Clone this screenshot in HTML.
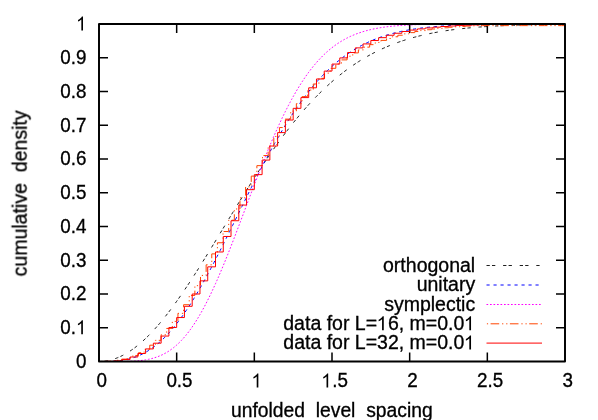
<!DOCTYPE html>
<html><head><meta charset="utf-8"><title>plot</title>
<style>
html,body{margin:0;padding:0;background:#fff;}
svg{display:block;}
.t{font-family:"Liberation Sans",sans-serif;font-size:19.5px;fill:#000;stroke:#000;stroke-width:0.32px;filter:grayscale(1) blur(0.3px);}
.t .h{fill:none;stroke:none;}
.c{fill:none;stroke-width:1;}
</style></head><body>
<svg width="598" height="420" viewBox="0 0 598 420">
<rect width="598" height="420" fill="#fff"/>
<defs><clipPath id="cp"><rect x="99.0" y="24.0" width="466.0" height="337.5"/></clipPath></defs>
<!-- border and ticks -->
<path d="M99.00,327.75 h9 M565.00,327.75 h-9 M99.00,294.00 h9 M565.00,294.00 h-9 M99.00,260.25 h9 M565.00,260.25 h-9 M99.00,226.50 h9 M565.00,226.50 h-9 M99.00,192.75 h9 M565.00,192.75 h-9 M99.00,159.00 h9 M565.00,159.00 h-9 M99.00,125.25 h9 M565.00,125.25 h-9 M99.00,91.50 h9 M565.00,91.50 h-9 M99.00,57.75 h9 M565.00,57.75 h-9 M176.67,361.50 v-9 M176.67,24.00 v9 M254.33,361.50 v-9 M254.33,24.00 v9 M332.00,361.50 v-9 M332.00,24.00 v9 M409.67,361.50 v-9 M409.67,24.00 v9 M487.33,361.50 v-9 M487.33,24.00 v9" fill="none" stroke="#000" stroke-width="1.5" style="filter:blur(0.3px)"/>
<!-- curves -->
<g clip-path="url(#cp)">
<path class="c" d="M99.00,361.50 L100.55,361.47 L102.11,361.39 L103.66,361.26 L105.21,361.08 L106.77,360.84 L108.32,360.55 L109.87,360.20 L111.43,359.81 L112.98,359.36 L114.53,358.86 L116.09,358.31 L117.64,357.70 L119.19,357.05 L120.75,356.34 L122.30,355.59 L123.85,354.78 L125.41,353.93 L126.96,353.02 L128.51,352.07 L130.07,351.06 L131.62,350.01 L133.17,348.91 L134.73,347.77 L136.28,346.57 L137.83,345.33 L139.39,344.05 L140.94,342.72 L142.49,341.35 L144.05,339.93 L145.60,338.47 L147.15,336.96 L148.71,335.42 L150.26,333.83 L151.81,332.21 L153.37,330.54 L154.92,328.84 L156.47,327.09 L158.03,325.31 L159.58,323.50 L161.13,321.65 L162.69,319.76 L164.24,317.84 L165.79,315.88 L167.35,313.89 L168.90,311.87 L170.45,309.82 L172.01,307.74 L173.56,305.63 L175.11,303.50 L176.67,301.33 L178.22,299.14 L179.77,296.92 L181.33,294.68 L182.88,292.42 L184.43,290.13 L185.99,287.82 L187.54,285.49 L189.09,283.14 L190.65,280.77 L192.20,278.38 L193.75,275.97 L195.31,273.55 L196.86,271.11 L198.41,268.66 L199.97,266.19 L201.52,263.71 L203.07,261.22 L204.63,258.72 L206.18,256.21 L207.73,253.69 L209.29,251.16 L210.84,248.62 L212.39,246.08 L213.95,243.53 L215.50,240.97 L217.05,238.42 L218.61,235.86 L220.16,233.29 L221.71,230.73 L223.27,228.16 L224.82,225.60 L226.37,223.03 L227.93,220.47 L229.48,217.91 L231.03,215.35 L232.59,212.80 L234.14,210.25 L235.69,207.71 L237.25,205.17 L238.80,202.64 L240.35,200.12 L241.91,197.61 L243.46,195.10 L245.01,192.61 L246.57,190.13 L248.12,187.65 L249.67,185.19 L251.23,182.74 L252.78,180.30 L254.33,177.88 L255.89,175.47 L257.44,173.07 L258.99,170.69 L260.55,168.33 L262.10,165.98 L263.65,163.64 L265.21,161.33 L266.76,159.03 L268.31,156.75 L269.87,154.48 L271.42,152.24 L272.97,150.01 L274.53,147.80 L276.08,145.62 L277.63,143.45 L279.19,141.30 L280.74,139.17 L282.29,137.07 L283.85,134.98 L285.40,132.92 L286.95,130.88 L288.51,128.86 L290.06,126.86 L291.61,124.88 L293.17,122.93 L294.72,121.00 L296.27,119.09 L297.83,117.20 L299.38,115.34 L300.93,113.50 L302.49,111.68 L304.04,109.89 L305.59,108.12 L307.15,106.38 L308.70,104.65 L310.25,102.96 L311.81,101.28 L313.36,99.63 L314.91,98.00 L316.47,96.40 L318.02,94.82 L319.57,93.26 L321.13,91.73 L322.68,90.22 L324.23,88.73 L325.79,87.27 L327.34,85.83 L328.89,84.41 L330.45,83.02 L332.00,81.65 L333.55,80.30 L335.11,78.98 L336.66,77.68 L338.21,76.40 L339.77,75.14 L341.32,73.91 L342.87,72.70 L344.43,71.51 L345.98,70.34 L347.53,69.19 L349.09,68.07 L350.64,66.96 L352.19,65.88 L353.75,64.82 L355.30,63.78 L356.85,62.76 L358.41,61.76 L359.96,60.78 L361.51,59.82 L363.07,58.87 L364.62,57.95 L366.17,57.05 L367.73,56.17 L369.28,55.30 L370.83,54.46 L372.39,53.63 L373.94,52.82 L375.49,52.03 L377.05,51.25 L378.60,50.49 L380.15,49.75 L381.71,49.03 L383.26,48.32 L384.81,47.63 L386.37,46.96 L387.92,46.30 L389.47,45.65 L391.03,45.02 L392.58,44.41 L394.13,43.81 L395.69,43.23 L397.24,42.66 L398.79,42.10 L400.35,41.56 L401.90,41.03 L403.45,40.52 L405.01,40.01 L406.56,39.53 L408.11,39.05 L409.67,38.58 L411.22,38.13 L412.77,37.69 L414.33,37.26 L415.88,36.85 L417.43,36.44 L418.99,36.05 L420.54,35.66 L422.09,35.29 L423.65,34.92 L425.20,34.57 L426.75,34.23 L428.31,33.89 L429.86,33.57 L431.41,33.25 L432.97,32.94 L434.52,32.65 L436.07,32.36 L437.63,32.08 L439.18,31.80 L440.73,31.54 L442.29,31.28 L443.84,31.03 L445.39,30.79 L446.95,30.56 L448.50,30.33 L450.05,30.11 L451.61,29.90 L453.16,29.69 L454.71,29.49 L456.27,29.30 L457.82,29.11 L459.37,28.92 L460.93,28.75 L462.48,28.58 L464.03,28.41 L465.59,28.25 L467.14,28.10 L468.69,27.95 L470.25,27.80 L471.80,27.66 L473.35,27.53 L474.91,27.39 L476.46,27.27 L478.01,27.14 L479.57,27.03 L481.12,26.91 L482.67,26.80 L484.23,26.69 L485.78,26.59 L487.33,26.49 L488.89,26.40 L490.44,26.30 L491.99,26.21 L493.55,26.13 L495.10,26.04 L496.65,25.96 L498.21,25.89 L499.76,25.81 L501.31,25.74 L502.87,25.67 L504.42,25.60 L505.97,25.54 L507.53,25.48 L509.08,25.42 L510.63,25.36 L512.19,25.30 L513.74,25.25 L515.29,25.20 L516.85,25.15 L518.40,25.10 L519.95,25.05 L521.51,25.01 L523.06,24.97 L524.61,24.93 L526.17,24.89 L527.72,24.85 L529.27,24.81 L530.83,24.78 L532.38,24.75 L533.93,24.71 L535.49,24.68 L537.04,24.65 L538.59,24.63 L540.15,24.60 L541.70,24.57 L543.25,24.55 L544.81,24.52 L546.36,24.50 L547.91,24.48 L549.47,24.46 L551.02,24.44 L552.57,24.42 L554.13,24.40 L555.68,24.38 L557.23,24.36 L558.79,24.35 L560.34,24.33 L561.89,24.32 L563.45,24.30 L565.00,24.29" stroke="#000" stroke-opacity="0.88" stroke-width="1.65" stroke-dasharray="3.3 2.2 3.3 7.8"/>
<path class="c" d="M99.00,361.50 L100.55,361.50 L102.11,361.50 L103.66,361.49 L105.21,361.48 L106.77,361.45 L108.32,361.42 L109.87,361.38 L111.43,361.31 L112.98,361.24 L114.53,361.14 L116.09,361.02 L117.64,360.88 L119.19,360.71 L120.75,360.51 L122.30,360.29 L123.85,360.03 L125.41,359.75 L126.96,359.42 L128.51,359.07 L130.07,358.67 L131.62,358.23 L133.17,357.76 L134.73,357.24 L136.28,356.67 L137.83,356.07 L139.39,355.41 L140.94,354.71 L142.49,353.96 L144.05,353.15 L145.60,352.30 L147.15,351.40 L148.71,350.44 L150.26,349.43 L151.81,348.37 L153.37,347.25 L154.92,346.07 L156.47,344.84 L158.03,343.55 L159.58,342.21 L161.13,340.81 L162.69,339.36 L164.24,337.84 L165.79,336.27 L167.35,334.64 L168.90,332.96 L170.45,331.22 L172.01,329.42 L173.56,327.57 L175.11,325.66 L176.67,323.70 L178.22,321.68 L179.77,319.61 L181.33,317.49 L182.88,315.31 L184.43,313.09 L185.99,310.81 L187.54,308.48 L189.09,306.11 L190.65,303.69 L192.20,301.22 L193.75,298.71 L195.31,296.15 L196.86,293.55 L198.41,290.91 L199.97,288.23 L201.52,285.51 L203.07,282.75 L204.63,279.96 L206.18,277.14 L207.73,274.28 L209.29,271.39 L210.84,268.47 L212.39,265.53 L213.95,262.56 L215.50,259.56 L217.05,256.54 L218.61,253.50 L220.16,250.44 L221.71,247.37 L223.27,244.27 L224.82,241.17 L226.37,238.05 L227.93,234.92 L229.48,231.78 L231.03,228.63 L232.59,225.47 L234.14,222.32 L235.69,219.16 L237.25,215.99 L238.80,212.83 L240.35,209.67 L241.91,206.52 L243.46,203.37 L245.01,200.23 L246.57,197.09 L248.12,193.97 L249.67,190.85 L251.23,187.75 L252.78,184.67 L254.33,181.60 L255.89,178.54 L257.44,175.50 L258.99,172.49 L260.55,169.49 L262.10,166.52 L263.65,163.56 L265.21,160.63 L266.76,157.73 L268.31,154.85 L269.87,152.00 L271.42,149.18 L272.97,146.39 L274.53,143.62 L276.08,140.89 L277.63,138.19 L279.19,135.52 L280.74,132.88 L282.29,130.27 L283.85,127.70 L285.40,125.17 L286.95,122.66 L288.51,120.20 L290.06,117.77 L291.61,115.37 L293.17,113.02 L294.72,110.70 L296.27,108.41 L297.83,106.17 L299.38,103.96 L300.93,101.79 L302.49,99.66 L304.04,97.57 L305.59,95.51 L307.15,93.50 L308.70,91.52 L310.25,89.58 L311.81,87.68 L313.36,85.81 L314.91,83.99 L316.47,82.20 L318.02,80.45 L319.57,78.74 L321.13,77.07 L322.68,75.43 L324.23,73.83 L325.79,72.26 L327.34,70.74 L328.89,69.24 L330.45,67.79 L332.00,66.37 L333.55,64.98 L335.11,63.63 L336.66,62.31 L338.21,61.03 L339.77,59.78 L341.32,58.56 L342.87,57.38 L344.43,56.22 L345.98,55.10 L347.53,54.01 L349.09,52.95 L350.64,51.92 L352.19,50.92 L353.75,49.94 L355.30,49.00 L356.85,48.08 L358.41,47.19 L359.96,46.33 L361.51,45.49 L363.07,44.68 L364.62,43.90 L366.17,43.14 L367.73,42.40 L369.28,41.69 L370.83,41.00 L372.39,40.33 L373.94,39.68 L375.49,39.06 L377.05,38.46 L378.60,37.87 L380.15,37.31 L381.71,36.77 L383.26,36.24 L384.81,35.74 L386.37,35.25 L387.92,34.78 L389.47,34.32 L391.03,33.88 L392.58,33.46 L394.13,33.06 L395.69,32.67 L397.24,32.29 L398.79,31.93 L400.35,31.58 L401.90,31.24 L403.45,30.92 L405.01,30.61 L406.56,30.31 L408.11,30.03 L409.67,29.75 L411.22,29.49 L412.77,29.24 L414.33,29.00 L415.88,28.76 L417.43,28.54 L418.99,28.33 L420.54,28.12 L422.09,27.93 L423.65,27.74 L425.20,27.56 L426.75,27.39 L428.31,27.22 L429.86,27.07 L431.41,26.91 L432.97,26.77 L434.52,26.63 L436.07,26.50 L437.63,26.38 L439.18,26.26 L440.73,26.14 L442.29,26.03 L443.84,25.93 L445.39,25.83 L446.95,25.74 L448.50,25.65 L450.05,25.56 L451.61,25.48 L453.16,25.40 L454.71,25.33 L456.27,25.26 L457.82,25.19 L459.37,25.13 L460.93,25.06 L462.48,25.01 L464.03,24.95 L465.59,24.90 L467.14,24.85 L468.69,24.80 L470.25,24.76 L471.80,24.72 L473.35,24.68 L474.91,24.64 L476.46,24.60 L478.01,24.57 L479.57,24.54 L481.12,24.51 L482.67,24.48 L484.23,24.45 L485.78,24.42 L487.33,24.40 L488.89,24.38 L490.44,24.35 L491.99,24.33 L493.55,24.31 L495.10,24.29 L496.65,24.28 L498.21,24.26 L499.76,24.24 L501.31,24.23 L502.87,24.22 L504.42,24.20 L505.97,24.19 L507.53,24.18 L509.08,24.17 L510.63,24.16 L512.19,24.15 L513.74,24.14 L515.29,24.13 L516.85,24.12 L518.40,24.11 L519.95,24.11 L521.51,24.10 L523.06,24.09 L524.61,24.09 L526.17,24.08 L527.72,24.08 L529.27,24.07 L530.83,24.07 L532.38,24.06 L533.93,24.06 L535.49,24.05 L537.04,24.05 L538.59,24.05 L540.15,24.04 L541.70,24.04 L543.25,24.04 L544.81,24.04 L546.36,24.03 L547.91,24.03 L549.47,24.03 L551.02,24.03 L552.57,24.03 L554.13,24.02 L555.68,24.02 L557.23,24.02 L558.79,24.02 L560.34,24.02 L561.89,24.02 L563.45,24.02 L565.00,24.01" stroke="#0000ff" stroke-dasharray="3.15 3.85"/>
<path class="c" d="M99.00,361.50 L100.55,361.50 L102.11,361.50 L103.66,361.50 L105.21,361.50 L106.77,361.50 L108.32,361.50 L109.87,361.50 L111.43,361.50 L112.98,361.50 L114.53,361.49 L116.09,361.49 L117.64,361.48 L119.19,361.47 L120.75,361.46 L122.30,361.44 L123.85,361.42 L125.41,361.39 L126.96,361.36 L128.51,361.32 L130.07,361.27 L131.62,361.20 L133.17,361.13 L134.73,361.04 L136.28,360.93 L137.83,360.81 L139.39,360.67 L140.94,360.50 L142.49,360.31 L144.05,360.10 L145.60,359.85 L147.15,359.58 L148.71,359.27 L150.26,358.93 L151.81,358.54 L153.37,358.12 L154.92,357.65 L156.47,357.14 L158.03,356.58 L159.58,355.96 L161.13,355.29 L162.69,354.57 L164.24,353.78 L165.79,352.93 L167.35,352.02 L168.90,351.04 L170.45,349.99 L172.01,348.87 L173.56,347.67 L175.11,346.40 L176.67,345.05 L178.22,343.62 L179.77,342.11 L181.33,340.51 L182.88,338.84 L184.43,337.07 L185.99,335.22 L187.54,333.29 L189.09,331.26 L190.65,329.15 L192.20,326.95 L193.75,324.66 L195.31,322.28 L196.86,319.81 L198.41,317.26 L199.97,314.62 L201.52,311.89 L203.07,309.08 L204.63,306.18 L206.18,303.20 L207.73,300.14 L209.29,297.00 L210.84,293.79 L212.39,290.49 L213.95,287.13 L215.50,283.70 L217.05,280.20 L218.61,276.64 L220.16,273.01 L221.71,269.33 L223.27,265.59 L224.82,261.80 L226.37,257.96 L227.93,254.07 L229.48,250.14 L231.03,246.18 L232.59,242.18 L234.14,238.15 L235.69,234.10 L237.25,230.02 L238.80,225.92 L240.35,221.81 L241.91,217.69 L243.46,213.56 L245.01,209.42 L246.57,205.29 L248.12,201.16 L249.67,197.03 L251.23,192.92 L252.78,188.82 L254.33,184.74 L255.89,180.68 L257.44,176.65 L258.99,172.64 L260.55,168.67 L262.10,164.73 L263.65,160.82 L265.21,156.96 L266.76,153.14 L268.31,149.36 L269.87,145.63 L271.42,141.95 L272.97,138.33 L274.53,134.75 L276.08,131.23 L277.63,127.77 L279.19,124.37 L280.74,121.03 L282.29,117.76 L283.85,114.54 L285.40,111.39 L286.95,108.31 L288.51,105.29 L290.06,102.34 L291.61,99.45 L293.17,96.64 L294.72,93.89 L296.27,91.21 L297.83,88.60 L299.38,86.06 L300.93,83.59 L302.49,81.19 L304.04,78.85 L305.59,76.58 L307.15,74.38 L308.70,72.25 L310.25,70.18 L311.81,68.18 L313.36,66.24 L314.91,64.37 L316.47,62.55 L318.02,60.81 L319.57,59.12 L321.13,57.49 L322.68,55.92 L324.23,54.41 L325.79,52.95 L327.34,51.55 L328.89,50.21 L330.45,48.91 L332.00,47.67 L333.55,46.48 L335.11,45.34 L336.66,44.24 L338.21,43.19 L339.77,42.19 L341.32,41.23 L342.87,40.31 L344.43,39.43 L345.98,38.59 L347.53,37.79 L349.09,37.03 L350.64,36.30 L352.19,35.61 L353.75,34.95 L355.30,34.33 L356.85,33.73 L358.41,33.16 L359.96,32.63 L361.51,32.12 L363.07,31.63 L364.62,31.17 L366.17,30.74 L367.73,30.33 L369.28,29.94 L370.83,29.57 L372.39,29.22 L373.94,28.89 L375.49,28.58 L377.05,28.29 L378.60,28.01 L380.15,27.75 L381.71,27.50 L383.26,27.27 L384.81,27.06 L386.37,26.85 L387.92,26.66 L389.47,26.48 L391.03,26.31 L392.58,26.15 L394.13,26.00 L395.69,25.86 L397.24,25.73 L398.79,25.61 L400.35,25.49 L401.90,25.39 L403.45,25.29 L405.01,25.19 L406.56,25.11 L408.11,25.03 L409.67,24.95 L411.22,24.88 L412.77,24.81 L414.33,24.75 L415.88,24.69 L417.43,24.64 L418.99,24.59 L420.54,24.55 L422.09,24.50 L423.65,24.46 L425.20,24.43 L426.75,24.39 L428.31,24.36 L429.86,24.33 L431.41,24.31 L432.97,24.28 L434.52,24.26 L436.07,24.24 L437.63,24.22 L439.18,24.20 L440.73,24.18 L442.29,24.17 L443.84,24.15 L445.39,24.14 L446.95,24.13 L448.50,24.12 L450.05,24.11 L451.61,24.10 L453.16,24.09 L454.71,24.08 L456.27,24.07 L457.82,24.07 L459.37,24.06 L460.93,24.06 L462.48,24.05 L464.03,24.05 L465.59,24.04 L467.14,24.04 L468.69,24.04 L470.25,24.03 L471.80,24.03 L473.35,24.03 L474.91,24.02 L476.46,24.02 L478.01,24.02 L479.57,24.02 L481.12,24.02 L482.67,24.01 L484.23,24.01 L485.78,24.01 L487.33,24.01 L488.89,24.01 L490.44,24.01 L491.99,24.01 L493.55,24.01 L495.10,24.01 L496.65,24.01 L498.21,24.01 L499.76,24.00 L501.31,24.00 L502.87,24.00 L504.42,24.00 L505.97,24.00 L507.53,24.00 L509.08,24.00 L510.63,24.00 L512.19,24.00 L513.74,24.00 L515.29,24.00 L516.85,24.00 L518.40,24.00 L519.95,24.00 L521.51,24.00 L523.06,24.00 L524.61,24.00 L526.17,24.00 L527.72,24.00 L529.27,24.00 L530.83,24.00 L532.38,24.00 L533.93,24.00 L535.49,24.00 L537.04,24.00 L538.59,24.00 L540.15,24.00 L541.70,24.00 L543.25,24.00 L544.81,24.00 L546.36,24.00 L547.91,24.00 L549.47,24.00 L551.02,24.00 L552.57,24.00 L554.13,24.00 L555.68,24.00 L557.23,24.00 L558.79,24.00 L560.34,24.00 L561.89,24.00 L563.45,24.00 L565.00,24.00" stroke="#ff00ff" stroke-width="1.5" stroke-dasharray="1.7 1.8"/>
<path class="c" d="M99.00,361.47 L104.64,361.47 L104.64,361.32 L110.28,361.32 L110.28,360.95 L115.92,360.95 L115.92,360.27 L121.55,360.27 L121.55,359.18 L127.19,359.18 L127.19,357.60 L132.83,357.60 L132.83,355.47 L138.47,355.47 L138.47,352.72 L144.11,352.72 L144.11,349.31 L149.75,349.31 L149.75,345.19 L155.39,345.19 L155.39,340.34 L161.02,340.34 L161.02,334.75 L166.66,334.75 L166.66,328.42 L172.30,328.42 L172.30,321.37 L177.94,321.37 L177.94,313.37 L183.58,313.37 L183.58,304.71 L189.22,304.71 L189.22,295.45 L194.86,295.45 L194.86,285.66 L200.49,285.66 L200.49,275.41 L206.13,275.41 L206.13,264.79 L211.77,264.79 L211.77,253.88 L217.41,253.88 L217.41,242.76 L223.05,242.76 L223.05,231.52 L228.69,231.52 L228.69,220.23 L234.33,220.23 L234.33,208.97 L239.97,208.97 L239.97,197.82 L245.60,197.82 L245.60,186.84 L251.24,186.84 L251.24,176.10 L256.88,176.10 L256.88,165.64 L262.52,165.64 L262.52,155.53 L268.16,155.53 L268.16,145.79 L273.80,145.79 L273.80,136.46 L279.44,136.46 L279.44,127.56 L285.07,127.56 L285.07,119.12 L290.71,119.12 L290.71,111.15 L296.35,111.15 L296.35,103.65 L301.99,103.65 L301.99,96.63 L307.63,96.63 L307.63,90.07 L313.27,90.07 L313.27,83.98 L318.91,83.98 L318.91,78.33 L324.54,78.33 L324.54,73.12 L330.18,73.12 L330.18,68.32 L335.82,68.32 L335.82,63.93 L341.46,63.93 L341.46,59.90 L347.10,59.90 L347.10,56.23 L352.74,56.23 L352.74,52.90 L358.38,52.90 L358.38,49.87 L364.01,49.87 L364.01,47.13 L369.65,47.13 L369.65,44.65 L375.29,44.65 L375.29,42.41 L380.93,42.41 L380.93,40.40 L386.57,40.40 L386.57,38.51 L392.21,38.51 L392.21,36.78 L397.85,36.78 L397.85,35.23 L403.48,35.23 L403.48,33.85 L409.12,33.85 L409.12,32.63 L414.76,32.63 L414.76,31.54 L420.40,31.54 L420.40,30.58 L426.04,30.58 L426.04,29.73 L431.68,29.73 L431.68,28.98 L437.32,28.98 L437.32,28.32 L442.95,28.32 L442.95,27.75 L448.59,27.75 L448.59,27.24 L454.23,27.24 L454.23,26.80 L459.87,26.80 L459.87,26.41 L465.51,26.41 L465.51,26.08 L471.15,26.08 L471.15,25.79 L476.79,25.79 L476.79,25.62 L482.42,25.62 L482.42,25.62 L488.06,25.62 L488.06,25.62 L493.70,25.62 L493.70,25.62 L499.34,25.62 L499.34,25.62 L504.98,25.62 L504.98,25.62 L510.62,25.62 L510.62,25.62 L516.26,25.62 L516.26,25.62 L521.89,25.62 L521.89,25.62 L527.53,25.62 L527.53,25.62 L533.17,25.62 L533.17,25.62 L538.81,25.62 L538.81,25.62 L544.45,25.62 L544.45,25.62 L550.09,25.62 L550.09,25.62 L555.73,25.62 L555.73,25.62 L561.37,25.62 L561.37,25.62 L567.00,25.62 L567.00,25.62 L572.64,25.62" stroke="#ff4500" stroke-width="1.05" stroke-dasharray="1.2 2.5 8.6 2.9 1.2 2.9"/>
<path class="c" d="M99.00,361.49 L106.77,361.49 L106.77,361.35 L114.53,361.35 L114.53,360.80 L122.30,360.80 L122.30,359.42 L130.07,359.42 L130.07,357.00 L137.83,357.00 L137.83,353.49 L145.60,353.49 L145.60,348.93 L153.37,348.93 L153.37,343.19 L161.13,343.19 L161.13,336.05 L168.90,336.05 L168.90,327.49 L176.67,327.49 L176.67,317.55 L184.43,317.55 L184.43,306.29 L192.20,306.29 L192.20,294.01 L199.97,294.01 L199.97,280.86 L207.73,280.86 L207.73,266.84 L215.50,266.84 L215.50,251.98 L223.27,251.98 L223.27,236.48 L231.03,236.48 L231.03,220.74 L238.80,220.74 L238.80,205.07 L246.57,205.07 L246.57,189.68 L254.33,189.68 L254.33,174.63 L262.10,174.63 L262.10,160.07 L269.87,160.07 L269.87,146.02 L277.63,146.02 L277.63,132.60 L285.40,132.60 L285.40,120.02 L293.17,120.02 L293.17,108.34 L300.93,108.34 L300.93,97.60 L308.70,97.60 L308.70,87.81 L316.47,87.81 L316.47,78.98 L324.23,78.98 L324.23,71.08 L332.00,71.08 L332.00,64.07 L339.77,64.07 L339.77,57.91 L347.53,57.91 L347.53,52.54 L355.30,52.54 L355.30,47.89 L363.07,47.89 L363.07,43.91 L370.83,43.91 L370.83,40.52 L378.60,40.52 L378.60,37.67 L386.37,37.67 L386.37,35.28 L394.13,35.28 L394.13,33.25 L401.90,33.25 L401.90,31.52 L409.67,31.52 L409.67,30.09 L417.43,30.09 L417.43,28.91 L425.20,28.91 L425.20,27.94 L432.97,27.94 L432.97,27.16 L440.73,27.16 L440.73,26.51 L448.50,26.51 L448.50,25.99 L456.27,25.99 L456.27,25.56 L464.03,25.56 L464.03,25.21 L471.80,25.21 L471.80,24.92 L479.57,24.92 L479.57,24.67 L487.33,24.67 L487.33,24.47 L495.10,24.47 L495.10,24.29 L502.87,24.29 L502.87,24.18 L510.63,24.18 L510.63,24.13 L518.40,24.13 L518.40,24.10 L526.17,24.10 L526.17,24.07 L533.93,24.07 L533.93,24.05 L541.70,24.05 L541.70,24.03 L549.47,24.03 L549.47,24.02 L557.23,24.02 L557.23,24.02 L565.00,24.02 L565.00,24.01 L572.77,24.01 L572.77,24.01 L580.53,24.01" stroke="#ff0000"/>
</g>
<rect x="99.0" y="24.0" width="466.0" height="337.5" fill="none" stroke="#000" stroke-width="1.95" stroke-linejoin="round" style="filter:blur(0.3px)"/>
<!-- legend samples -->
<path class="c" d="M486.5,265.5 H541.5" stroke="#000" stroke-opacity="0.88" stroke-width="1.65" stroke-dasharray="3.3 2.2 3.3 7.8"/>
<path class="c" d="M486.5,285.0 H542" stroke="#0000ff" stroke-dasharray="3.15 3.85"/>
<path class="c" d="M486.5,304.5 H542" stroke="#ff00ff" stroke-width="1.5" stroke-dasharray="1.7 1.8"/>
<path class="c" d="M486.9,323.8 H542" stroke="#ff4500" stroke-width="1.05" stroke-dasharray="1.2 2.5 8.6 2.9 1.2 2.9"/>
<path class="c" d="M486.5,343.1 H542" stroke="#ff0000"/>
<!-- text -->
<g class="t">
<g transform="translate(86.50,367.90) scale(0.965,1.040)"><text id="y0" text-anchor="end" xml:space="preserve">0</text></g>
<g transform="translate(86.50,334.15) scale(0.965,1.040)"><text id="y1" text-anchor="end" xml:space="preserve">0.<tspan class="h">1</tspan></text><path d="M763 0H583V1147Q518 1085 412.5 1023T223 930V1104Q373.5 1175 486 1275T647 1472H763Z" transform="translate(-10.86,0) scale(0.00952,-0.00911) translate(-15,0)"/></g>
<g transform="translate(86.50,300.40) scale(0.965,1.040)"><text id="y2" text-anchor="end" xml:space="preserve">0.2</text></g>
<g transform="translate(86.50,266.65) scale(0.965,1.040)"><text id="y3" text-anchor="end" xml:space="preserve">0.3</text></g>
<g transform="translate(86.50,232.90) scale(0.965,1.040)"><text id="y4" text-anchor="end" xml:space="preserve">0.4</text></g>
<g transform="translate(86.50,199.15) scale(0.965,1.040)"><text id="y5" text-anchor="end" xml:space="preserve">0.5</text></g>
<g transform="translate(86.50,165.40) scale(0.965,1.040)"><text id="y6" text-anchor="end" xml:space="preserve">0.6</text></g>
<g transform="translate(86.50,131.65) scale(0.965,1.040)"><text id="y7" text-anchor="end" xml:space="preserve">0.7</text></g>
<g transform="translate(86.50,97.90) scale(0.965,1.040)"><text id="y8" text-anchor="end" xml:space="preserve">0.8</text></g>
<g transform="translate(86.50,64.15) scale(0.965,1.040)"><text id="y9" text-anchor="end" xml:space="preserve">0.9</text></g>
<g transform="translate(87.00,30.40) scale(0.965,1.040)"><text id="y10" text-anchor="end" xml:space="preserve"><tspan class="h">1</tspan></text><path d="M763 0H583V1147Q518 1085 412.5 1023T223 930V1104Q373.5 1175 486 1275T647 1472H763Z" transform="translate(-10.84,0) scale(0.00952,-0.00911) translate(-60,0)"/></g>
<g transform="translate(101.80,387.40) scale(0.965,1.040)"><text id="x0" text-anchor="middle" xml:space="preserve">0</text></g>
<g transform="translate(179.47,387.40) scale(0.965,1.040)"><text id="x1" text-anchor="middle" xml:space="preserve">0.5</text></g>
<g transform="translate(257.13,387.40) scale(0.965,1.040)"><text id="x2" text-anchor="middle" xml:space="preserve"><tspan class="h">1</tspan></text><path d="M763 0H583V1147Q518 1085 412.5 1023T223 930V1104Q373.5 1175 486 1275T647 1472H763Z" transform="translate(-5.42,0) scale(0.00952,-0.00911) translate(-60,0)"/></g>
<g transform="translate(334.80,387.40) scale(0.965,1.040)"><text id="x3" text-anchor="middle" xml:space="preserve"><tspan class="h">1</tspan>.5</text><path d="M763 0H583V1147Q518 1085 412.5 1023T223 930V1104Q373.5 1175 486 1275T647 1472H763Z" transform="translate(-13.55,0) scale(0.00952,-0.00911) translate(-60,0)"/></g>
<g transform="translate(412.47,387.40) scale(0.965,1.040)"><text id="x4" text-anchor="middle" xml:space="preserve">2</text></g>
<g transform="translate(490.13,387.40) scale(0.965,1.040)"><text id="x5" text-anchor="middle" xml:space="preserve">2.5</text></g>
<g transform="translate(567.80,387.40) scale(0.965,1.040)"><text id="x6" text-anchor="middle" xml:space="preserve">3</text></g>
<g transform="translate(475.20,271.85)"><text id="l0" text-anchor="end" xml:space="preserve">orthogonal</text></g>
<g transform="translate(475.20,291.35)"><text id="l1" text-anchor="end" xml:space="preserve">unitary</text></g>
<g transform="translate(475.20,310.85)"><text id="l2" text-anchor="end" xml:space="preserve">symplectic</text></g>
<g transform="translate(475.20,330.15)"><text id="l3" text-anchor="end" xml:space="preserve">data for L=<tspan class="h">1</tspan>6, m=0.0<tspan class="h">1</tspan></text><path d="M763 0H583V1147Q518 1085 412.5 1023T223 930V1104Q373.5 1175 486 1275T647 1472H763Z" transform="translate(-98.12,0) scale(0.00952,-0.00948) translate(-60,0)"/><path d="M763 0H583V1147Q518 1085 412.5 1023T223 930V1104Q373.5 1175 486 1275T647 1472H763Z" transform="translate(-10.86,0) scale(0.00952,-0.00948) translate(-60,0)"/></g>
<g transform="translate(475.20,349.45)"><text id="l4" text-anchor="end" xml:space="preserve">data for L=32, m=0.0<tspan class="h">1</tspan></text><path d="M763 0H583V1147Q518 1085 412.5 1023T223 930V1104Q373.5 1175 486 1275T647 1472H763Z" transform="translate(-10.86,0) scale(0.00952,-0.00948) translate(-60,0)"/></g>
<g transform="translate(331.80,417.30) scale(0.990,1)"><text id="xl" text-anchor="middle" xml:space="preserve">unfolded  level  spacing</text></g>
<g transform="translate(26.70,193.40) rotate(-90)"><text id="yl" text-anchor="middle" xml:space="preserve">cumulative  density</text></g>
</g>
</svg>
</body></html>
